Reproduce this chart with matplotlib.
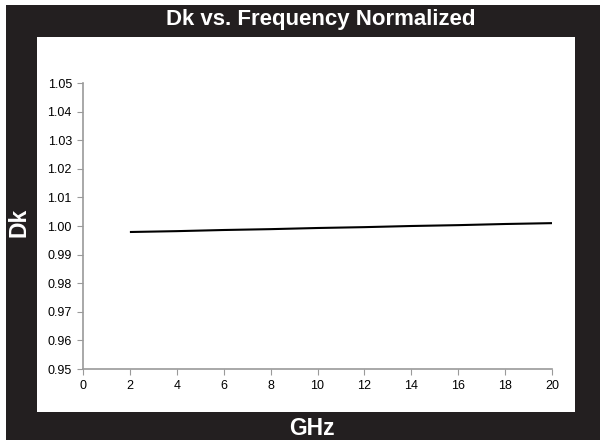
import matplotlib
matplotlib.use("Agg")
import matplotlib.pyplot as plt
from matplotlib.patches import Rectangle

plt.rcParams.update({
    "font.family": ["Liberation Sans", "DejaVu Sans"],
    "font.size": 9,
})

# data
ghz = [2, 4, 6, 8, 10, 12, 14, 16, 18, 20]
dk = [0.9979, 0.9982, 0.9986, 0.9989, 0.9993, 0.9996, 1.0000, 1.0003, 1.0007, 1.0010]

xticks = [0, 2, 4, 6, 8, 10, 12, 14, 16, 18, 20]
yticks = [0.95, 0.96, 0.97, 0.98, 0.99, 1.00, 1.01, 1.02, 1.03, 1.04, 1.05]

BG = "#231f20"
SPINE = "#9a9a9a"

fig = plt.figure(figsize=(6.0, 4.4), dpi=100, facecolor=BG)

# thin white strips at top/left edge, and the white panel
fig.patches.append(Rectangle((0, 1 - 5 / 440), 1, 5 / 440, transform=fig.transFigure,
                             facecolor="white", edgecolor="none", zorder=-1))
fig.patches.append(Rectangle((0, 0), 6 / 600, 1, transform=fig.transFigure,
                             facecolor="white", edgecolor="none", zorder=-1))
fig.patches.append(Rectangle((37 / 600, 1 - 412 / 440), 538 / 600, 375 / 440,
                             transform=fig.transFigure, facecolor="white",
                             edgecolor="none", zorder=-1))

ax = fig.add_axes([83 / 600, 1 - 369 / 440, 469 / 600, 286 / 440])
ax.set_zorder(2)
ax.set_facecolor("none")
ax.plot(ghz, dk, color="black", linewidth=1.5, solid_capstyle="butt")

ax.set_xlim(0, 20)
ax.set_ylim(0.95, 1.05)
ax.set_xticks(xticks)
ax.set_yticks(yticks)
ax.set_yticklabels([f"{v:.2f}" for v in yticks])
for s in ("top", "right"):
    ax.spines[s].set_visible(False)
for s in ("left", "bottom"):
    ax.spines[s].set_color(SPINE)
    ax.spines[s].set_linewidth(1.2)
ax.tick_params(direction="out", length=4, width=0.8, color=SPINE,
               labelcolor="black", pad=4)

fig.text(321 / 600, 1 - 19 / 440, "Dk vs. Frequency Normalized", color="white",
         fontsize=16, fontweight="bold", ha="center", va="center")
fig.text(312 / 600, 1 - 428 / 440, "GHz", color="white", fontsize=16.5,
         fontweight="bold", ha="center", va="center")
fig.text(19 / 600, 1 - 222 / 440, "Dk", color="white", fontsize=16.5,
         fontweight="bold", ha="center", va="center", rotation=90)

fig.savefig("out.png", dpi=100, facecolor=BG)
